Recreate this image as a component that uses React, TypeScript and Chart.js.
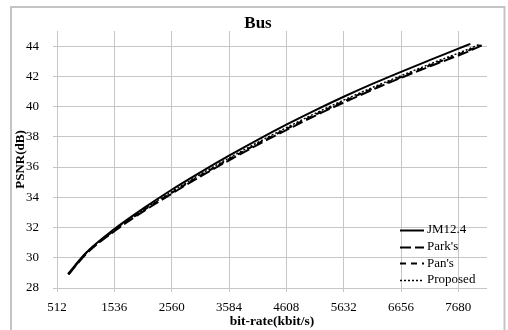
import React, { useEffect, useRef } from "react";
import { Chart, registerables } from "chart.js";

Chart.register(...registerables);

const chartTitle = "Bus";
const xTicks = [512, 1536, 2560, 3584, 4608, 5632, 6656, 7680];
const yTicks = [28, 30, 32, 34, 36, 38, 40, 42, 44];

const seriesNames = ["JM12.4", "Park's", "Pan's", "Proposed"];

const jmRate = [709, 1024, 1536, 2048, 2560, 3072, 3584, 4096, 4608, 5120, 5632, 6144, 6656, 7168, 7680, 7894];
const jmPsnr = [28.93, 30.3, 31.9, 33.25, 34.5, 35.65, 36.75, 37.8, 38.8, 39.75, 40.65, 41.5, 42.3, 43.07, 43.83, 44.15];

const parkRate = [720, 1040, 1560, 2090, 2610, 3130, 3650, 4170, 4690, 5210, 5730, 6250, 6770, 7290, 7810, 8100];
const parkPsnr = [28.9, 30.28, 31.82, 33.15, 34.35, 35.5, 36.58, 37.62, 38.6, 39.55, 40.43, 41.28, 42.07, 42.83, 43.57, 44.05];

const panRate = [715, 1030, 1550, 2075, 2595, 3115, 3635, 4155, 4675, 5195, 5715, 6235, 6755, 7275, 7795, 8080];
const panPsnr = [28.9, 30.29, 31.84, 33.18, 34.38, 35.53, 36.62, 37.66, 38.64, 39.59, 40.48, 41.32, 42.11, 42.87, 43.61, 44.06];

const propRate = [712, 1025, 1545, 2065, 2585, 3100, 3620, 4140, 4660, 5180, 5700, 6220, 6740, 7260, 7780, 8050];
const propPsnr = [28.92, 30.3, 31.87, 33.21, 34.42, 35.58, 36.67, 37.71, 38.7, 39.65, 40.54, 41.38, 42.17, 42.94, 43.68, 44.1];

const FONT = "'Liberation Serif', 'Times New Roman', serif";
const dashes: number[][] = [[], [11, 4], [6, 5], [2, 2]];
const widths = [2, 2, 2, 1.5];

const pts = (xs: number[], ys: number[]) => xs.map((x, i) => ({ x, y: ys[i] }));

const frameLegend = {
  id: "frameLegend",
  beforeDraw(chart: any) {
    const ctx = chart.ctx;
    ctx.save();
    ctx.fillStyle = "#ffffff";
    ctx.fillRect(0, 0, chart.width, chart.height);
    ctx.strokeStyle = "#c4c4c4";
    ctx.lineWidth = 2;
    ctx.strokeRect(11, 7, 493.5, 340);
    ctx.restore();
  },
  afterDraw(chart: any) {
    const ctx = chart.ctx;
    const { right, bottom } = chart.chartArea;
    ctx.save();
    ctx.fillStyle = "#000";
    ctx.font = `bold 17px ${FONT}`;
    ctx.textAlign = "center";
    ctx.textBaseline = "middle";
    ctx.fillText(chartTitle, 258, 24);

    ctx.font = `13px ${FONT}`;
    ctx.textAlign = "left";
    chart.data.datasets.forEach((ds: any, i: number) => {
      const y = bottom - 58 + i * 16.6;
      const x0 = right - 87;
      const x1 = right - 63;
      ctx.strokeStyle = "#000";
      ctx.lineWidth = ds.borderWidth;
      ctx.setLineDash(ds.borderDash || []);
      ctx.beginPath();
      ctx.moveTo(x0, Math.round(y) + 0.5);
      ctx.lineTo(x1, Math.round(y) + 0.5);
      ctx.stroke();
      ctx.setLineDash([]);
      ctx.fillText(ds.label, x1 + 3, y);
    });
    ctx.restore();
  },
};

export default function App() {
  const ref = useRef<HTMLCanvasElement>(null);
  useEffect(() => {
    if (!ref.current) return;
    const rates = [jmRate, parkRate, panRate, propRate];
    const psnrs = [jmPsnr, parkPsnr, panPsnr, propPsnr];
    const chart = new Chart(ref.current, {
      type: "line",
      data: {
        datasets: seriesNames.map((name, i) => ({
          label: name,
          data: pts(rates[i], psnrs[i]),
          borderColor: "#000",
          borderWidth: widths[i],
          borderDash: dashes[i],
          pointRadius: 0,
          cubicInterpolationMode: "monotone" as const,
          fill: false,
        })),
      },
      options: {
        responsive: false,
        animation: false,
        layout: { padding: { left: 0, right: 21, top: 31, bottom: 0 } },
        plugins: {
          legend: { display: false },
          tooltip: { enabled: false },
          title: { display: false },
        },
        scales: {
          x: {
            type: "linear",
            min: 512,
            max: 8192,
            afterBuildTicks: (s: any) => {
              s.ticks = xTicks.map((v) => ({ value: v }));
            },
            afterFit: (s: any) => {
              s.height = 42;
            },
            grid: { color: "#c6c6c6", lineWidth: 1, tickLength: 4 },
            border: { display: false },
            ticks: {
              color: "#000",
              padding: 8,
              maxRotation: 0,
              autoSkip: false,
              font: { family: FONT, size: 13 },
              callback: (v: any) => String(v),
            },
            title: {
              display: true,
              text: "bit-rate(kbit/s)",
              color: "#000",
              font: { family: FONT, size: 13.5, weight: "bold" },
              padding: { top: 0, bottom: 0 },
            },
          },
          y: {
            type: "linear",
            min: 28,
            max: 45,
            afterBuildTicks: (s: any) => {
              s.ticks = yTicks.map((v) => ({ value: v }));
            },
            afterFit: (s: any) => {
              s.width = 57;
            },
            grid: { color: "#c6c6c6", lineWidth: 1, tickLength: 4 },
            border: { display: false },
            ticks: {
              color: "#000",
              padding: 14,
              font: { family: FONT, size: 13 },
              callback: (v: any) => String(v),
            },
            title: {
              display: true,
              text: "PSNR(dB)",
              color: "#000",
              font: { family: FONT, size: 13, weight: "bold" },
              padding: { top: 13, bottom: 0 },
            },
          },
        },
      },
      plugins: [frameLegend],
    });
    return () => chart.destroy();
  }, []);
  return (
    <div style={{ position: "fixed", left: 0, top: 0, width: 508, height: 330 }}>
      <canvas ref={ref} width={508} height={330} />
    </div>
  );
}
